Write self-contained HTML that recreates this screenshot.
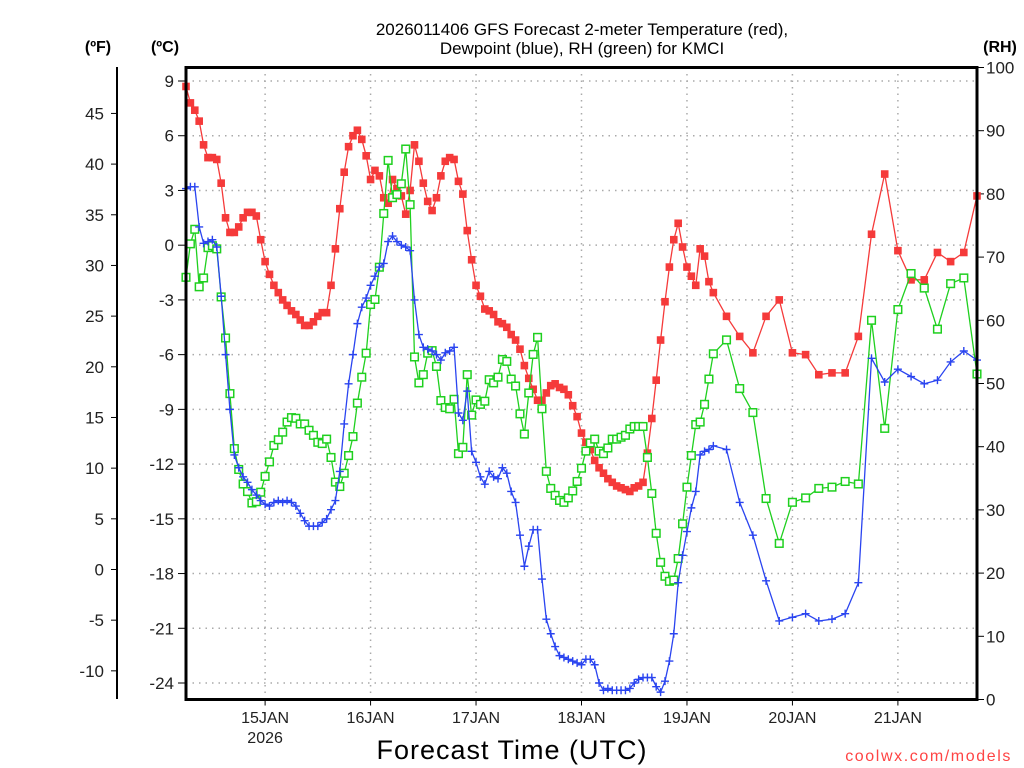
<!DOCTYPE html>
<html><head><meta charset="utf-8">
<style>
html,body{margin:0;padding:0;background:#fff;}
svg{display:block;font-family:"Liberation Sans",sans-serif;}
</style></head>
<body>
<svg id="chart" width="1024" height="768" viewBox="0 0 1024 768" xmlns="http://www.w3.org/2000/svg">
<g font-size="17" text-anchor="middle" fill="#000">
<text x="582" y="35">2026011406 GFS Forecast 2-meter Temperature (red),</text>
<text x="582" y="54">Dewpoint (blue), RH (green) for KMCI</text>
</g>
<text x="98" y="52" font-size="16" font-weight="bold" text-anchor="middle">(ºF)</text>
<text x="165" y="52" font-size="16" font-weight="bold" text-anchor="middle">(ºC)</text>
<text x="1000" y="52" font-size="16" font-weight="bold" text-anchor="middle">(RH)</text>
<g id="grid"></g>
<g id="axes"></g>
<g id="series"></g>
<rect x="186" y="67.5" width="791" height="632" fill="none" stroke="#000" stroke-width="3"/>
<text x="512" y="759" font-size="27" text-anchor="middle" letter-spacing="1">Forecast Time (UTC)</text>
<text x="1012" y="761" font-size="16" fill="#f44" text-anchor="end" letter-spacing="1.6">coolwx.com/models</text>
</svg>
<script>
const dayLabels = ["15JAN","16JAN","17JAN","18JAN","19JAN","20JAN","21JAN"];
const dayHours = [18,42,66,90,114,138,162];
const cTicks = [9,6,3,0,-3,-6,-9,-12,-15,-18,-21,-24];
const fTicks = [45,40,35,30,25,20,15,10,5,0,-5,-10];
const rhTicks = [0,10,20,30,40,50,60,70,80,90,100];
const tempC = [8.7,7.8,7.4,6.8,5.5,4.8,4.8,4.7,3.4,1.5,0.7,0.7,1.0,1.5,1.8,1.8,1.6,0.3,-0.9,-1.6,-2.2,-2.6,-3.0,-3.3,-3.6,-3.8,-4.1,-4.4,-4.4,-4.2,-3.9,-3.7,-3.7,-2.2,-0.2,2.0,4.0,5.4,6.0,6.3,5.8,4.9,
3.6,4.1,3.8,2.6,2.3,3.6,3.1,2.7,1.7,3.0,5.5,
4.6,3.4,2.4,1.9,2.6,3.8,4.6,4.8,4.7,3.5,2.8,0.8,-0.8,-2.2,-2.8,-3.5,-3.6,-3.8,-4.2,-4.3,-4.5,-4.9,-5.2,-5.7,-6.6,-7.3,-7.9,-8.5,-8.5,-8.1,-7.7,-7.6,-7.8,-7.9,-8.2,
-8.8,-9.4,-10.3,-10.8,-11.2,-11.8,-12.2,-12.5,-12.8,-13.0,-13.2,-13.3,-13.4,-13.5,-13.3,-13.2,-13.0,-11.4,-9.5,-7.4,-5.2,-3.1,-1.2,0.3,1.2,-0.1,-1.2,-1.7,-2.2,-0.2,-0.6,-2.0,-2.6,
-3.9,-5.0,-5.9,-3.9,-3.0,-5.9,-6.0,-7.1,-7.0,-7.0,-5.0,0.6,3.9,-0.3,-1.9,-1.9,-0.4,-0.9,-0.4,2.7];
const dewC = [3.1,3.2,3.2,1.0,0.1,0.2,0.3,-0.1,-2.8,-6.0,-9.0,-11.5,-12.2,-12.7,-13.0,-13.4,-13.7,-14.0,-14.2,-14.3,-14.1,-14.0,-14.1,-14.0,-14.1,-14.3,-14.7,-15.1,-15.4,-15.4,-15.4,-15.2,-15.0,-14.5,-14.0,-12.4,-9.8,-7.6,-6.0,-4.3,-3.4,-2.9,-2.2,-1.7,-1.2,
-1.0,0.2,0.5,0.2,0.0,-0.1,-0.3,-3.0,-4.9,-5.6,-5.7,-5.8,-6.0,-6.3,-5.9,-5.8,-5.6,-9.2,-9.6,-8.0,-11.3,-11.9,-12.7,-13.1,-12.4,-12.7,-12.8,-12.2,-12.5,-13.5,-14.1,-15.9,-17.6,-16.5,-15.6,-15.6,-18.3,-20.5,
-21.3,-22.0,
-22.5,-22.6,-22.7,-22.8,-22.9,-23.0,-22.7,-22.7,-23.0,-24.0,-24.4,-24.3,-24.4,-24.4,-24.4,-24.4,-24.3,-24.0,-23.8,-23.7,-23.7,-23.7,-24.2,-24.5,-23.9,-22.8,-21.3,-18.5,-17.0,-15.7,-14.4,-13.5,-11.5,-11.3,-11.2,-11.0,
-11.2,-14.1,-15.9,-18.4,-20.6,-20.4,-20.2,-20.6,-20.5,-20.2,-18.5,-6.2,-7.5,-6.8,-7.2,-7.6,-7.4,-6.4,-5.8,-6.3];
const rh = [66.8,72.1,74.4,65.3,66.7,71.5,71.8,71.3,63.7,57.2,48.4,39.7,36.4,34.1,32.9,31.1,31.3,32.8,35.3,37.6,40.2,41.1,42.3,43.9,44.6,44.5,43.6,43.6,42.6,41.8,40.7,40.5,41.2,38.3,34.4,33.7,35.8,38.6,41.6,46.9,51.0,54.8,62.5,63.3,68.4,
76.9,85.3,79.4,79.9,81.6,87.1,78.3,54.2,50.1,51.4,54.8,55.2,52.7,47.3,46.2,46.0,47.5,38.9,39.9,51.4,45.0,47.4,46.7,47.2,50.6,50.1,51.0,53.8,53.5,50.7,49.6,45.2,42.0,48.5,54.6,57.3,46.0,36.1,33.4,32.3,31.5,
31.2,31.9,33.0,34.5,36.6,39.3,40.6,41.2,39.3,38.9,39.8,41.2,41.2,41.5,41.8,42.8,43.2,43.2,43.2,38.3,32.6,26.3,21.7,19.5,18.7,18.9,22.3,27.8,33.6,38.6,43.5,43.9,46.7,50.7,54.7,
56.9,49.2,45.4,31.8,24.7,31.2,31.9,33.4,33.6,34.5,34.1,60.0,42.9,61.7,67.4,65.1,58.6,65.8,66.7,51.5];
const hours = [];
for (let h = 0; h <= 120; h++) hours.push(h);
for (let h = 123; h <= 180; h += 3) hours.push(h);

const X0=186, X1=977, Y0=67.5, Y1=699.5;
const xs = h => X0 + (h/180)*(X1-X0);
const yc = c => 81 + (9-c)*(602/33);
const yf = f => yc((f-32)*5/9);
const yr = r => Y1 - r*(Y1-Y0)/100;
const NS="http://www.w3.org/2000/svg";
function mk(tag, attrs, parent){const e=document.createElementNS(NS,tag);for(const k in attrs)e.setAttribute(k,attrs[k]);parent.appendChild(e);return e;}
const grid=document.getElementById('grid'), axes=document.getElementById('axes'), series=document.getElementById('series');

cTicks.forEach(c=>{
  const y=yc(c);
  const g=mk('line',{x1:X0,x2:X1,y1:y,y2:y,stroke:'#aaa','stroke-width':1.5,'stroke-dasharray':'1.5 5'},grid);
  
  
  mk('line',{x1:X0-8,x2:X0,y1:y,y2:y,stroke:'#000','stroke-width':1},axes);
  const t=mk('text',{x:174,y:y+6,'font-size':17,'text-anchor':'end',fill:'#222'},axes);
  t.textContent=c;
  
  
});
dayHours.forEach((h,i)=>{
  const x=xs(h);
  const g=mk('line',{x1:x,x2:x,y1:Y0,y2:Y1,stroke:'#aaa','stroke-width':1.5,'stroke-dasharray':'1.5 5'},grid);
  
  
  mk('line',{x1:x,x2:x,y1:Y1,y2:Y1+6,stroke:'#000','stroke-width':1},axes);
  const t=mk('text',{x:x,y:723,'font-size':16,'text-anchor':'middle',fill:'#222'},axes);
  t.textContent=dayLabels[i];
  
  
});
const yr26=mk('text',{x:xs(18),y:743,'font-size':16,'text-anchor':'middle',fill:'#222'},axes);
yr26.textContent='2026';


rhTicks.forEach(r=>{
  const y=yr(r);
  mk('line',{x1:X1,x2:X1+7,y1:y,y2:y,stroke:'#000','stroke-width':1},axes);
  const t=mk('text',{x:986,y:y+6,'font-size':17,'text-anchor':'start',fill:'#222'},axes);
  t.textContent=r;
  
  
});
mk('line',{x1:117,x2:117,y1:67,y2:699,stroke:'#000','stroke-width':2},axes);
fTicks.forEach(f=>{
  const y=yf(f);
  mk('line',{x1:111,x2:117,y1:y,y2:y,stroke:'#000','stroke-width':1},axes);
  const t=mk('text',{x:104,y:y+6,'font-size':17,'text-anchor':'end',fill:'#222'},axes);
  t.textContent=f;
  
  
});

function drawSeries(vals, yfn, color, kind, name){
  const n=Math.min(vals.length,hours.length);
  const g=mk('g',{},series);
  
  
  let d='';
  for(let i=0;i<n;i++){d+=(i?'L':'M')+xs(hours[i]).toFixed(1)+' '+yfn(vals[i]).toFixed(1);}
  mk('path',{d:d,fill:'none',stroke:color,'stroke-width':1.3},g);
  for(let i=0;i<n;i++){
    const x=xs(hours[i]), y=yfn(vals[i]);
    let m;
    if(kind==='fill') m=mk('rect',{x:x-3.8,y:y-3.8,width:7.6,height:7.6,fill:color},g);
    else if(kind==='open') m=mk('rect',{x:x-3.8,y:y-3.8,width:7.6,height:7.6,fill:'#fff',stroke:color,'stroke-width':1.5},g);
    else m=mk('path',{d:`M${x-4} ${y}H${x+4}M${x} ${y-4}V${y+4}`,stroke:color,'stroke-width':1.4,fill:'none'},g);
    
    
  }
}
drawSeries(tempC, yc, '#f53a3a', 'fill', 'temperature-series');
drawSeries(rh, yr, '#1fd01f', 'open', 'rh-series');
drawSeries(dewC, yc, '#2a44f0', 'plus', 'dewpoint-series');
</script>
</body></html>
